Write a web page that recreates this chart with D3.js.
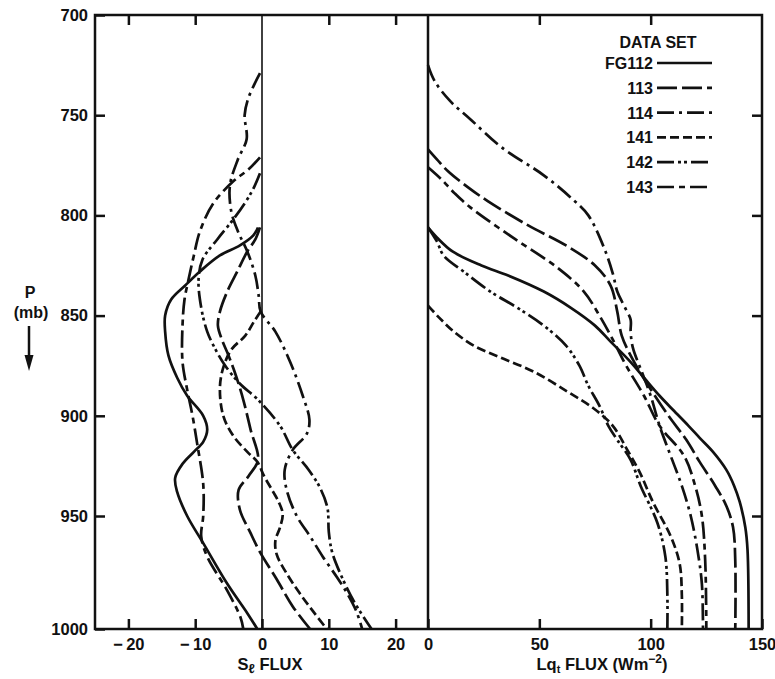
<!DOCTYPE html>
<html lang="en">
<head>
<meta charset="UTF-8">
<title>S and Lq flux profiles</title>
<script src="https://d3js.org/d3.v7.min.js"></script>
<style>
  body { margin: 0; background: #fff; }
  svg text { font-family: "Liberation Sans", Arial, sans-serif; font-weight: bold; fill: #111; }
  .tick line { stroke: #111; stroke-width: 2.5; }
  .tick text { font-size: 16.5px; }
</style>
</head>
<body>
<svg width="775" height="679"></svg>
<script>
// ticks
var pTicks = [700, 750, 800, 850, 900, 950, 1000];
var sfTicks = [-20, -10, 0, 10, 20];
var lqTicks = [0, 50, 100, 150];
var sets = ["FG112", "113", "114", "141", "142", "143"];

// S_l flux profiles, [pressure mb, flux]
var sfFG112 = [[806,-0.6],[810,-1.3],[815,-3.3],[820,-6.3],[828,-9.3],[835,-11.5],[842,-13.6],[850,-14.5],[858,-14.5],[870,-14],[881,-12.7],[890,-11.2],[900,-8.8],[907,-8.2],[913,-8.8],[918,-10.2],[924,-11.9],[931,-13],[938,-12.7],[950,-11.2],[962,-8.8],[980,-5.2],[993,-2.2],[1000,-0.7]];
var sf113 = [[806,-0.3],[812,-1],[818,-2.2],[828,-3.7],[838,-5.2],[848,-6.3],[855,-6.6],[862,-6],[870,-5],[880,-3.9],[892,-2.8],[907,-1.7],[922,-0.6],[930,-2],[937,-3.5],[947,-3.3],[957,-1.8],[966,-0.3],[978,2.2],[990,4.6],[1000,7.2]];
var sf114 = [[729,-0.3],[735,-1.2],[742,-2.1],[750,-2.6],[762,-2.3],[772,-3.6],[785,-4.8],[798,-4.6],[808,-3.6],[818,-2.2],[830,-1],[840,-0.5],[848,-0.2],[858,2],[873,4.2],[890,6.1],[902,7.1],[909,6.7],[917,4.6],[927,3.4],[937,3.7],[950,5.2],[959,7.2],[968,9.1],[977,11.2],[984,12.7],[992,14.1],[1000,15]];
var sf141 = [[848,-0.2],[853,-1.2],[860,-2.5],[867,-4.6],[876,-5.8],[886,-6.3],[900,-5.8],[910,-4.3],[918,-2.2],[923,-0.7],[930,0.3],[937,1.5],[943,2.5],[949,3.1],[955,2.7],[961,2],[967,2.2],[975,3.6],[984,5.6],[992,7.6],[1000,9.7]];
var sf142 = [[779,-0.3],[786,-1.2],[793,-2.4],[802,-4.3],[812,-6.7],[822,-8.9],[832,-9.5],[846,-9.1],[858,-8.2],[866,-7.1],[875,-5.5],[884,-3.3],[892,-0.6],[905,2.7],[917,4.6],[927,7],[936,8.7],[946,9.8],[957,10],[966,10.5],[976,11.8],[988,13.8],[1000,16.4]];
var sf143 = [[771,-0.3],[777,-2],[783,-4.3],[794,-7.3],[808,-9.3],[820,-10.2],[832,-11],[842,-11.6],[855,-11.9],[873,-11.9],[887,-11.2],[900,-10.4],[914,-9.7],[934,-8.8],[950,-8.8],[959,-9.1],[968,-8.2],[983,-5.2],[995,-3.2],[1000,-2.8]];

// Lq_t flux profiles, [pressure mb, flux]
var lqFG112 = [[806,0],[811,4],[818,11],[825,24],[830,36],[838,52],[846,64],[855,75],[863,82],[872,90],[881,97],[890,104],[897,110],[905,117],[911,122],[918,128],[927,134],[935,137.5],[943,140],[955,142.5],[965,143.5],[1000,144]];
var lq113 = [[767,0],[772,4],[778,9],[786,18],[793,27],[805,45],[815,62],[825,75],[835,82],[848,85],[860,87],[872,92],[885,99],[900,108],[912,116],[923,122],[935,129],[945,134],[955,137],[970,138],[1000,138]];
var lq114 = [[725,0],[733,3],[743,10],[752,19],[766,33],[780,52],[792,65],[800,72],[816,79],[829,83],[838,85],[845,88],[852,91],[858,91],[866,92],[878,96],[890,100],[905,104],[920,109],[935,114],[950,118],[965,121],[980,123],[1000,123.5]];
var lq141 = [[845,0],[851,5],[858,11.6],[865,20.6],[871,32.7],[878,47.5],[888,62.7],[896,74],[905,83],[917,89.5],[928,95],[943,101],[959,109],[971,113],[985,114],[1000,114]];
var lq142 = [[806,0],[813,4],[820,7],[828,16],[838,28],[846,40],[855,52],[865,62],[875,68],[885,72],[895,77],[905,81],[912,85],[922,91],[935,95.5],[953,103],[968,106.6],[985,107.5],[1000,107.5]];
var lq143 = [[776,0],[782,6],[789,12],[796,19],[811,38],[826,58],[838,70],[850,77],[862,83],[875,89],[890,97],[905,104],[920,115],[935,120],[950,123],[970,124.5],[1000,125]];

var sfSeries = [sfFG112, sf113, sf114, sf141, sf142, sf143];
var lqSeries = [lqFG112, lq113, lq114, lq141, lq142, lq143];

var dashes = ["none", "20,5", "17,5,3,5", "9,4", "17,4,3,3,3,4", "17,5,6,5"];

var svg = d3.select("svg");
var mLeft = 95, mRight = 762, mTop = 15, mBottom = 629;

var y = d3.scaleLinear().domain([700, 950, 1000]).range([mTop, 516, mBottom]);
var xL = d3.scaleLinear().domain([-25, 25]).range([mLeft, 429]);
var xR = d3.scaleLinear().domain([0, 150]).range([428, mRight]);

var fmt = function(d) { return d < 0 ? "\u2212\u2009" + Math.abs(d) : String(d); };

// left axis with labels
var gy = svg.append("g").attr("transform", "translate(" + mLeft + ",0)")
    .call(d3.axisLeft(y).tickValues(pTicks).tickSize(-10).tickPadding(7).tickFormat(d3.format("d")));
gy.select(".domain").remove();

// right axis ticks
var gr = svg.append("g").attr("transform", "translate(" + mRight + ",0)")
    .call(d3.axisRight(y).tickValues([750, 800, 850, 900, 950]).tickSize(-10).tickFormat(""));
gr.select(".domain").remove();

// bottom axes
var gbl = svg.append("g").attr("transform", "translate(0," + mBottom + ")")
    .call(d3.axisBottom(xL).tickValues(sfTicks).tickSize(-10).tickPadding(9).tickFormat(fmt));
gbl.select(".domain").remove();
var gbr = svg.append("g").attr("transform", "translate(0," + mBottom + ")")
    .call(d3.axisBottom(xR).tickValues(lqTicks).tickSize(-10).tickPadding(9));
gbr.select(".domain").remove();

// top ticks
var gtl = svg.append("g").attr("transform", "translate(0," + mTop + ")")
    .call(d3.axisTop(xL).tickValues([-20, -10, 10, 20]).tickSize(-10).tickFormat(""));
gtl.select(".domain").remove();
var gtr = svg.append("g").attr("transform", "translate(0," + mTop + ")")
    .call(d3.axisTop(xR).tickValues([50, 100]).tickSize(-10).tickFormat(""));
gtr.select(".domain").remove();

// frame and zero lines
svg.append("rect").attr("x", mLeft).attr("y", mTop)
    .attr("width", mRight - mLeft).attr("height", mBottom - mTop)
    .attr("fill", "none").attr("stroke", "#111").attr("stroke-width", 2.5);
svg.append("line").attr("x1", xL(0)).attr("x2", xL(0)).attr("y1", mTop).attr("y2", mBottom)
    .attr("stroke", "#111").attr("stroke-width", 1.6);
svg.append("line").attr("x1", xR(0)).attr("x2", xR(0)).attr("y1", mTop).attr("y2", mBottom)
    .attr("stroke", "#111").attr("stroke-width", 2.5);

// curves
var lineL = d3.line().x(function(d) { return xL(d[1]); }).y(function(d) { return y(d[0]); })
    .curve(d3.curveCatmullRom.alpha(0.5));
var lineR = d3.line().x(function(d) { return xR(d[1]); }).y(function(d) { return y(d[0]); })
    .curve(d3.curveCatmullRom.alpha(0.5));

svg.append("g").selectAll("path").data(sfSeries).enter().append("path")
    .attr("d", lineL).attr("fill", "none").attr("stroke", "#111").attr("stroke-width", 2.7)
    .attr("stroke-dasharray", function(d, i) { return dashes[i]; });
svg.append("g").selectAll("path").data(lqSeries).enter().append("path")
    .attr("d", lineR).attr("fill", "none").attr("stroke", "#111").attr("stroke-width", 2.7)
    .attr("stroke-dasharray", function(d, i) { return dashes[i]; });

// legend
svg.append("text").attr("x", 658).attr("y", 48).attr("text-anchor", "middle")
    .style("font-size", "16px").text("DATA SET");
var lg = svg.append("g").selectAll("g").data(sets).enter().append("g")
    .attr("transform", function(d, i) { return "translate(0," + (63 + i * 24.8) + ")"; });
lg.append("text").attr("x", 653).attr("y", 6).attr("text-anchor", "end")
    .style("font-size", "16px").text(function(d) { return d; });
lg.append("line").attr("x1", 657).attr("x2", 712).attr("y1", 0).attr("y2", 0)
    .attr("stroke", "#111").attr("stroke-width", 2.7)
    .attr("stroke-dasharray", function(d, i) { return dashes[i]; });

// y title and arrow
svg.append("text").attr("x", 30).attr("y", 298).attr("text-anchor", "middle")
    .style("font-size", "16px").text("P");
svg.append("text").attr("x", 31).attr("y", 318).attr("text-anchor", "middle")
    .style("font-size", "16px").text("(mb)");
svg.append("line").attr("x1", 29).attr("x2", 29).attr("y1", 326).attr("y2", 358)
    .attr("stroke", "#111").attr("stroke-width", 2.5);
svg.append("path").attr("d", "M24.5,355 L33.5,355 L29,371 Z").attr("fill", "#111");

// x titles
var t1 = svg.append("text").attr("x", 270).attr("y", 670).attr("text-anchor", "middle")
    .style("font-size", "16.5px");
t1.append("tspan").text("S");
t1.append("tspan").attr("dy", 3).style("font-size", "13px").text("\u2113");
t1.append("tspan").attr("dy", -3).text(" FLUX");

var t2 = svg.append("text").attr("x", 602).attr("y", 670).attr("text-anchor", "middle")
    .style("font-size", "16.5px");
t2.append("tspan").text("Lq");
t2.append("tspan").attr("dy", 3).style("font-size", "11px").text("t");
t2.append("tspan").attr("dy", -3).text(" FLUX (Wm");
t2.append("tspan").attr("dy", -7).style("font-size", "12px").text("\u22122");
t2.append("tspan").attr("dy", 7).text(")");
</script>
</body>
</html>
